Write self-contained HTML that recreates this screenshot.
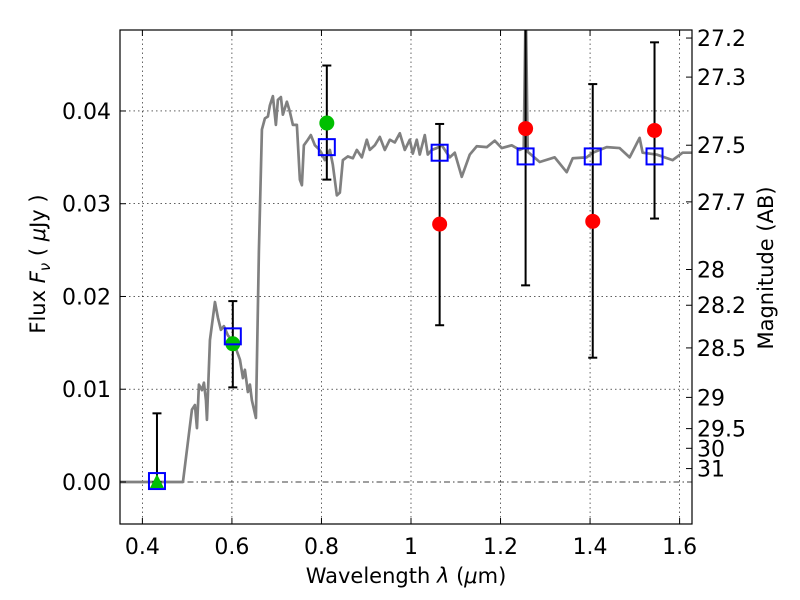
<!DOCTYPE html>
<html><head><meta charset="utf-8"><style>
body{margin:0;background:#fff;}
svg{display:block;font-family:"DejaVu Sans","Liberation Sans",sans-serif;}
</style></head><body>
<svg id="chart" width="800" height="600" viewBox="0 0 800 600" xmlns="http://www.w3.org/2000/svg"></svg>
<script>
const specLam=[0.35,0.4906,0.5107,0.5174,0.5219,0.5263,0.5330,0.5375,0.5420,0.5442,0.5509,0.5621,0.5688,0.5754,0.5821,0.5911,0.6000,0.6089,0.6179,0.6246,0.6290,0.6357,0.6402,0.6446,0.6536,0.6603,0.6670,0.6737,0.6804,0.6848,0.6915,0.6982,0.7027,0.7094,0.7138,0.7228,0.7295,0.7362,0.7451,0.7518,0.7563,0.7607,0.7696,0.7763,0.7853,0.7920,0.7987,0.8076,0.8188,0.8254,0.8344,0.8411,0.8478,0.8589,0.8701,0.8790,0.8902,0.9013,0.9080,0.9192,0.9304,0.9415,0.9527,0.9638,0.9750,0.9862,0.9973,1.0040,1.0129,1.0196,1.0308,1.0375,1.0464,1.0576,1.0688,1.0866,1.0978,1.1134,1.1313,1.1469,1.1692,1.1871,1.2027,1.2250,1.2429,1.2518,1.2563,1.2607,1.2875,1.3210,1.3478,1.3612,1.3924,1.4058,1.4371,1.4661,1.4884,1.5107,1.5174,1.5487,1.5844,1.6067,1.6446];
const specFlux=[0,0,0.0078,0.0083,0.0058,0.0105,0.0099,0.0107,0.0088,0.0067,0.0153,0.0194,0.0177,0.0164,0.0168,0.0158,0.0153,0.0144,0.0132,0.0112,0.0121,0.0097,0.0105,0.0088,0.0069,0.0250,0.0380,0.0392,0.0394,0.0406,0.0416,0.0385,0.0412,0.0415,0.0396,0.0410,0.0399,0.0385,0.0385,0.0326,0.0320,0.0363,0.0369,0.0374,0.0363,0.0360,0.0356,0.0347,0.0358,0.0342,0.0309,0.0312,0.0347,0.0351,0.0349,0.0358,0.0350,0.0369,0.0358,0.0363,0.0372,0.0358,0.0369,0.0366,0.0376,0.0358,0.0369,0.0354,0.0369,0.0353,0.0374,0.0353,0.0358,0.0360,0.0363,0.0350,0.0355,0.0329,0.0353,0.0362,0.0361,0.0368,0.0360,0.0363,0.0358,0.0360,0.0520,0.0356,0.0345,0.0350,0.0334,0.0349,0.0350,0.0355,0.0361,0.0360,0.0350,0.0371,0.0355,0.0353,0.0347,0.0355,0.0355];
const bandLam=[0.4326,0.602,0.812,1.064,1.256,1.406,1.544];
const modelFlux=[0.0001,0.0157,0.0361,0.0355,0.0351,0.0351,0.0351];
const errLow=[0.0,0.0102,0.0326,0.0169,0.0212,0.0134,0.0284];
const errHigh=[0.0074,0.0195,0.0449,0.0386,0.0550,0.0429,0.0474];
const greenLam=[0.602,0.812];
const greenFlux=[0.0149,0.0387];
const triLam=[0.4326];
const triFlux=[0.0];
const redLam=[1.064,1.256,1.406,1.544];
const redFlux=[0.0278,0.0381,0.0281,0.0379];
const xTicks=[0.4,0.6,0.8,1.0,1.2,1.4,1.6];
const xTickLabels=["0.4","0.6","0.8","1","1.2","1.4","1.6"];
const yTicks=[0,0.01,0.02,0.03,0.04];
const yTickLabels=["0.00","0.01","0.02","0.03","0.04"];
const magTicks=[27.2,27.3,27.5,27.7,28,28.2,28.5,29,29.5,30,31];
const magLabels=["27.2","27.3","27.5","27.7","28","28.2","28.5","29","29.5","30","31"];

const L=120,R=692,T=30,B=524;
const XMIN=0.35,XMAX=1.6277,YMIN=-0.00453,YMAX=0.04873;
const sx=v=>L+(v-XMIN)/(XMAX-XMIN)*(R-L);
const sy=v=>B-(v-YMIN)/(YMAX-YMIN)*(B-T);
const svg=document.getElementById('chart');
const NS='http://www.w3.org/2000/svg';
function mk(tag,attrs,parent){const e=document.createElementNS(NS,tag);for(const k in attrs)e.setAttribute(k,attrs[k]);(parent||svg).appendChild(e);return e;}

const defs=mk('defs',{});
const cp=mk('clipPath',{id:'clip'},defs);
mk('rect',{x:L,y:T,width:R-L,height:B-T},cp);

const grid=mk('g',{});


xTicks.forEach(v=>{mk('line',{x1:sx(v),x2:sx(v),y1:T,y2:B,stroke:'#000','stroke-width':0.6,'stroke-dasharray':'1.5,3'},grid);});
yTicks.forEach(v=>{if(v===0)return;mk('line',{x1:L,x2:R,y1:sy(v),y2:sy(v),stroke:'#000','stroke-width':0.6,'stroke-dasharray':'1.5,3'},grid);});
const zl=mk('line',{x1:L,x2:R,y1:sy(0),y2:sy(0),stroke:'#000','stroke-width':0.7,'stroke-dasharray':'6,3,1.5,3'});



const plot=mk('g',{'clip-path':'url(#clip)'});
const sp=mk('polyline',{points:specLam.map((l,i)=>sx(l)+','+sy(specFlux[i])).join(' '),fill:'none',stroke:'#808080','stroke-width':2.7,'stroke-linejoin':'round'},plot);


bandLam.forEach((l,i)=>{
  const g=mk('g',{},plot);
  
  
  const x=sx(l);
  mk('line',{x1:x,x2:x,y1:sy(errLow[i]),y2:sy(errHigh[i]),stroke:'#000','stroke-width':2},g);
  mk('line',{x1:x-4.5,x2:x+4.5,y1:sy(errLow[i]),y2:sy(errLow[i]),stroke:'#000','stroke-width':2},g);
  mk('line',{x1:x-4.5,x2:x+4.5,y1:sy(errHigh[i]),y2:sy(errHigh[i]),stroke:'#000','stroke-width':2},g);
});
greenLam.forEach((l,i)=>{
  const c=mk('circle',{cx:sx(l),cy:sy(greenFlux[i]),r:7.5,fill:'#00bf00'},plot);
  
  
});
triLam.forEach((l,i)=>{
  const x=sx(l),y=sy(triFlux[i]);
  const p=mk('polygon',{points:`${x},${y-8} ${x-7},${y+6} ${x+7},${y+6}`,fill:'#00bf00'},plot);
  
  
});
redLam.forEach((l,i)=>{
  const c=mk('circle',{cx:sx(l),cy:sy(redFlux[i]),r:7.5,fill:'#ff0000'},plot);
  
  
});
bandLam.forEach((l,i)=>{
  const r=mk('rect',{x:sx(l)-8,y:sy(modelFlux[i])-8,width:16,height:16,fill:'none',stroke:'#0000ff','stroke-width':2},plot);
  
  
});

const fr=mk('rect',{x:L,y:T,width:R-L,height:B-T,fill:'none',stroke:'#000','stroke-width':1.2});



xTicks.forEach((v,i)=>{
  const x=sx(v);
  mk('line',{x1:x,x2:x,y1:B,y2:B-6,stroke:'#000'});
  mk('line',{x1:x,x2:x,y1:T,y2:T+6,stroke:'#000'});
  const t=mk('text',{x:x,y:554,'font-size':22,'text-anchor':'middle'});
  t.textContent=xTickLabels[i];
  
  
});
yTicks.forEach((v,i)=>{
  const y=sy(v);
  mk('line',{x1:L,x2:L+6,y1:y,y2:y,stroke:'#000'});
  const t=mk('text',{x:111,y:y+8,'font-size':22,'text-anchor':'end'});
  t.textContent=yTickLabels[i];
  
  
});
magTicks.forEach((m,i)=>{
  const f=Math.pow(10,(23.9-m)/2.5);
  const y=sy(f);
  mk('line',{x1:R,x2:R-6,y1:y,y2:y,stroke:'#000'});
  const t=mk('text',{x:697,y:y+8,'font-size':22});
  t.textContent=magLabels[i];
  
  
});
const xl=mk('text',{x:406,y:583,'font-size':21,'text-anchor':'middle'});
xl.innerHTML='Wavelength  <tspan font-style="italic">λ</tspan> (<tspan font-style="italic">μ</tspan>m)';


const yl=mk('text',{x:0,y:0,'font-size':21,'text-anchor':'middle',transform:'translate(45,264) rotate(-90)'});
yl.innerHTML='Flux  <tspan font-style="italic">F</tspan><tspan font-style="italic" font-size="15" dy="5">ν</tspan><tspan dy="-5">  (  </tspan><tspan font-style="italic">μ</tspan>Jy )';


const rl=mk('text',{x:0,y:0,'font-size':21,'text-anchor':'middle',transform:'translate(773,268) rotate(-90)'});
rl.textContent='Magnitude (AB)';


</script>
</body></html>
